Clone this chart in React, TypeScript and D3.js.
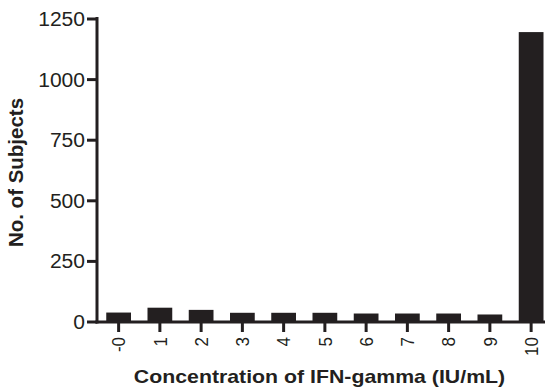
import React from "react";
import * as d3 from "d3";

const categories = ["-0", "1", "2", "3", "4", "5", "6", "7", "8", "9", "10"];
const counts = [39, 59, 50, 38, 38, 38, 35, 35, 35, 31, 1196];
const yTicks = [0, 250, 500, 750, 1000, 1250];

const W = 553;
const H = 388;
const INK = "#231f20";

export default function App() {
  const x = d3
    .scaleBand<string>()
    .domain(categories)
    .range([98, 98 + 11 * 41.25])
    .paddingInner(0.4)
    .paddingOuter(0.2);
  const y = d3.scaleLinear().domain([0, 1250]).range([322, 19]);
  const axisX = 97;
  const axisEnd = 545;
  const font = "Arial, 'Liberation Sans', Helvetica, sans-serif";

  return (
    <svg
      width={W}
      height={H}
      style={{ position: "absolute", left: 0, top: 0, background: "#fff" }}
      fontFamily={font}
    >
      {/* bars */}
      {categories.map((c, i) => (
        <rect
          key={c}
          x={x(c)}
          y={y(counts[i])}
          width={x.bandwidth()}
          height={y(0) - y(counts[i])}
          fill={INK}
        />
      ))}
      {/* y axis */}
      <line x1={axisX} x2={axisX} y1={y(1250) - 2} y2={y(0) + 1.5} stroke={INK} strokeWidth={3} />
      {yTicks.map((t) => (
        <g key={t}>
          <line x1={axisX - 10} x2={axisX} y1={y(t)} y2={y(t)} stroke={INK} strokeWidth={3} />
          <text
            transform={`translate(${axisX - 12},${y(t) + 7}) scale(1.08,1)`}
            textAnchor="end"
            fontSize={19.5}
            fill={INK}
          >
            {t}
          </text>
        </g>
      ))}
      {/* x axis */}
      <line x1={axisX - 1.5} x2={axisEnd} y1={y(0)} y2={y(0)} stroke={INK} strokeWidth={3} />
      {categories.map((c) => {
        const cx = (x(c) as number) + x.bandwidth() / 2;
        return (
          <g key={c}>
            <line x1={cx} x2={cx} y1={y(0)} y2={y(0) + 10} stroke={INK} strokeWidth={3} />
            <text
              transform={`translate(${cx},${337}) scale(1.1,1) rotate(-90)`}
              dy="0.36em"
              textAnchor="end"
              fontSize={17}
              fill={INK}
            >
              {c}
            </text>
          </g>
        );
      })}
      {/* titles */}
      <text
        transform={`translate(319.5,383) scale(1.145,1)`}
        textAnchor="middle"
        fontSize={18.6}
        fontWeight="bold"
        fill={INK}
      >
        Concentration of IFN-gamma (IU/mL)
      </text>
      <text
        transform={`translate(22.7,172.5) rotate(-90)`}
        textAnchor="middle"
        fontSize={20.5}
        fontWeight="bold"
        fill={INK}
      >
        No. of Subjects
      </text>
    </svg>
  );
}
